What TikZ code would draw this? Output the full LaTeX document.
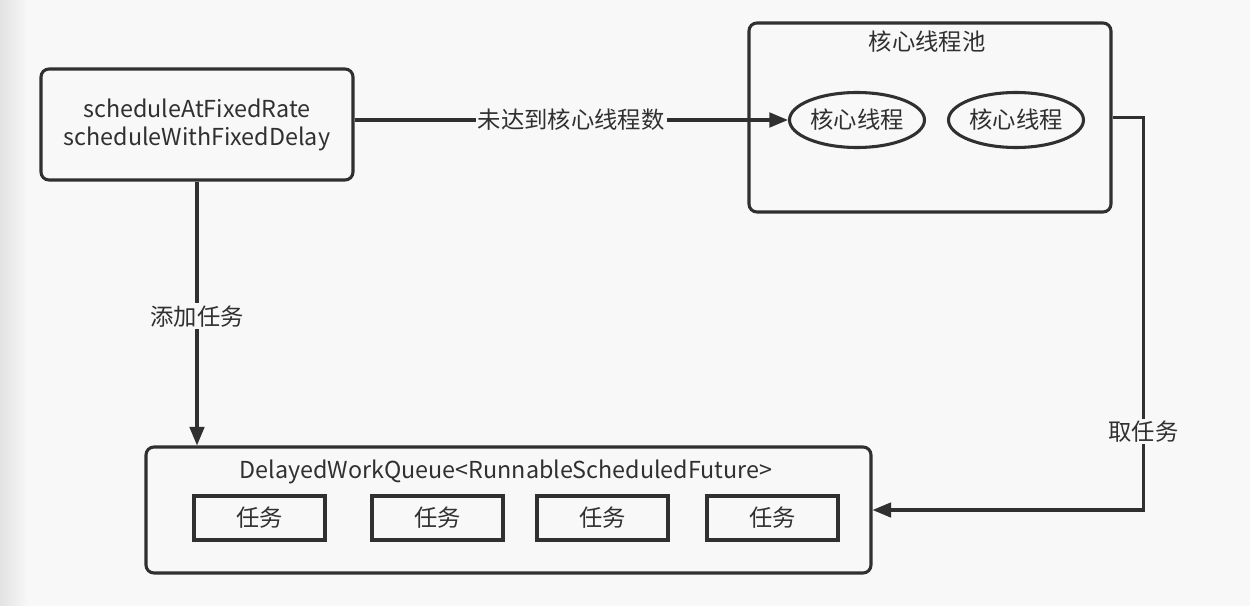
\documentclass[tikz,border=0pt]{standalone}
\usepackage{fontspec}
\setmainfont{Noto Sans CJK SC}
\usetikzlibrary{arrows.meta,shapes.geometric}
\definecolor{bgc}{HTML}{F8F8F8}
\definecolor{ink}{HTML}{303030}
\tikzset{
  rbox/.style={draw=ink, line width=2.3pt, rounded corners=6pt, fill=bgc, inner sep=0pt},
  sbox/.style={draw=ink, line width=2.5pt, fill=bgc, inner sep=0pt, minimum width=98.25pt, minimum height=33pt},
  oval/.style={ellipse, draw=ink, line width=2.3pt, fill=bgc, inner sep=0pt, minimum width=101.25pt, minimum height=41.25pt},
  txt/.style={text=ink, font=\fontsize{17.5}{21}\selectfont},
  conn/.style={draw=ink, line width=2.3pt},
  arr/.style={conn, -{Triangle[length=14pt,width=11pt]}},
  lbl/.style={txt, fill=bgc, inner sep=1.5pt}
}
\begin{document}
\begin{tikzpicture}[x=0.75pt,y=-0.75pt]
\useasboundingbox (0,0) rectangle (1250,606);
\fill[bgc] (0,0) rectangle (1250,606);
\shade[left color=black!11, right color=bgc] (0,0) rectangle (28,606);

% left box
\node[rbox, txt, minimum width=234pt, minimum height=83.25pt, align=center] (src) at (197,124.5)
  {scheduleAtFixedRate\\scheduleWithFixedDelay};

% pool
\node[rbox, minimum width=271.5pt, minimum height=141.75pt] (pool) at (930,117.5) {};
\node[txt] (pooltitle) at (927,42) {核心线程池};
\node[oval, txt] (e1) at (857,120) {核心线程};
\node[oval, txt] (e2) at (1016,120) {核心线程};

% queue
\node[rbox, minimum width=543.75pt, minimum height=94.5pt] (queue) at (508.5,510) {};
\node[txt] (qtitle) at (506,472) {DelayedWorkQueue<RunnableScheduledFuture>};
\node[sbox, txt] (t1) at (259.5,518) {任务};
\node[sbox, txt] (t2) at (437.5,518) {任务};
\node[sbox, txt] (t3) at (602.5,518) {任务};
\node[sbox, txt] (t4) at (772.5,518) {任务};

% connectors
\draw[arr] (src.east|-e1.west) -- node[lbl, pos=0.5] {未达到核心线程数} (e1.west);
\draw[arr] (src.south) -- node[lbl, pos=0.51] {添加任务} (src.south|-queue.north);
\draw[arr] (pool.east) -- ++(31,0) coordinate (turn) |- node[lbl, pos=0.40] {取任务} (queue.east);
\end{tikzpicture}
\end{document}
